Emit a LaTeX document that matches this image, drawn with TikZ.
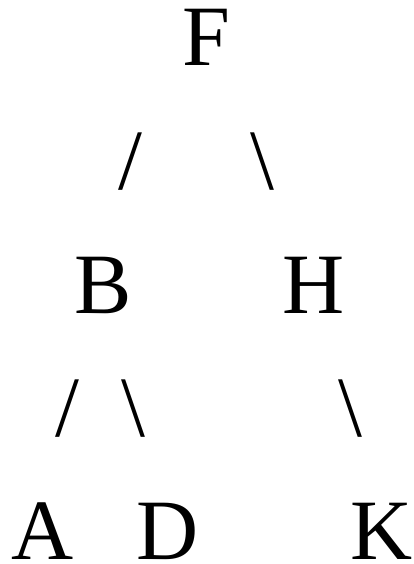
\documentclass[tikz,border=0pt]{standalone}
\usepackage{fontspec}
\setmainfont{Liberation Serif}
\tikzset{key/.style = {font=\fontsize{86}{86}\selectfont, inner sep=0pt, anchor=base}}
\begin{document}
\begin{tikzpicture}[x = 1pt, y = -1pt]
  \useasboundingbox (0,0) rectangle (414,564);
  \node[key] (F) at (206.5,65.5) {F};
  \node[key] (FB) at (130.5,189) {/};
  \node[key] (FH) at (262,189) {\textbackslash};
  \node[key] (B) at (103.5,313) {B};
  \node[key] (H) at (313.5,313) {H};
  \node[key] (BA) at (67,436) {/};
  \node[key] (BD) at (133.5,436) {\textbackslash};
  \node[key] (HK) at (350,436) {\textbackslash};
  \node[key] (A) at (43,559) {A};
  \node[key] (D) at (168,559) {D};
  \node[key] (K) at (382,559) {K};
  \end{tikzpicture}
\end{document}
